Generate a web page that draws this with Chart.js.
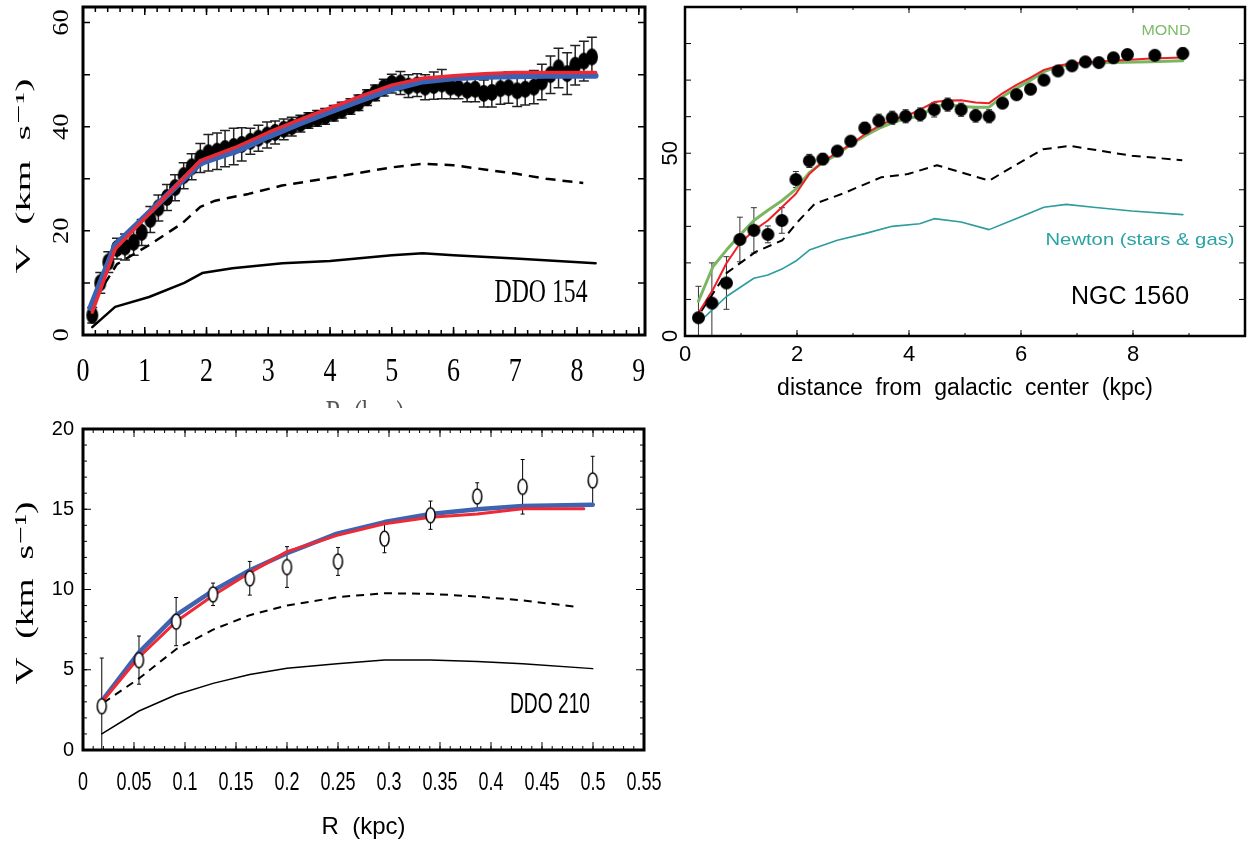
<!DOCTYPE html>
<html>
<head>
<meta charset="utf-8">
<title>Rotation curves</title>
<script src="https://cdn.jsdelivr.net/npm/chart.js@4/dist/chart.umd.min.js"></script>
<style>
  html, body { margin: 0; padding: 0; background: #fff; }
  body { width: 1255px; height: 847px; position: relative; overflow: hidden; }
  canvas { position: absolute; }
  #ddo154 { left: 0; top: 0; }
  #ngc1560 { left: 650px; top: 0; }
  #ddo210 { left: 0; top: 408px; background: #fff; }
</style>
</head>
<body>
<canvas id="ddo154" width="660" height="430"></canvas>
<canvas id="ngc1560" width="605" height="410"></canvas>
<canvas id="ddo210" width="680" height="439"></canvas>
<script>
// ---- DDO 154 (top left) ----
const ddo154R = [0.15, 0.28, 0.41, 0.55, 0.68, 0.82, 0.95, 1.09, 1.22, 1.36, 1.49, 1.63, 1.76, 1.9, 2.03,
  2.17, 2.3, 2.44, 2.57, 2.71, 2.84, 2.98, 3.11, 3.25, 3.38, 3.52, 3.65, 3.79, 3.92, 4.06, 4.19, 4.33,
  4.46, 4.6, 4.73, 4.87, 5.0, 5.14, 5.27, 5.41, 5.54, 5.68, 5.81, 5.95, 6.08, 6.22, 6.35, 6.49, 6.62,
  6.76, 6.89, 7.03, 7.16, 7.3, 7.43, 7.57, 7.7, 7.84, 7.97, 8.11, 8.24];
const ddo154V = [3.8, 10, 14, 16.6, 16.9, 17.8, 19.7, 22.2, 24.4, 26.4, 28.3, 30.6, 32.3, 34.0, 35.0,
  35.3, 35.8, 36.2, 36.6, 37.2, 37.8, 38.4, 38.9, 39.5, 40.0, 40.6, 41.2, 41.6, 42.0, 42.6, 43.2, 43.9,
  44.6, 45.6, 46.5, 47.5, 48.3, 48.4, 47.8, 48.0, 47.6, 47.9, 48.2, 47.6, 47.4, 47.0, 47.2, 46.4, 46.6,
  47.3, 47.5, 46.9, 47.2, 47.6, 48.6, 50.0, 51.3, 50.2, 51.8, 52.6, 53.4];
const ddo154Err = [1.5, 2, 2, 2, 2.5, 2.5, 2.5, 2.5, 2.5, 2.5, 2.5, 2.5, 2.5, 2.8, 3.5,
  3.5, 3.5, 3.5, 3.2, 2.5, 2.5, 2.5, 2.2, 2, 1.8, 1.6, 1.5, 1.5, 1.5, 1.5, 1.5, 1.5,
  1.5, 1.5, 1.5, 1.6, 1.8, 2.2, 2.2, 2.2, 2.4, 2.6, 2.8, 2.2, 2.0, 2.2, 2.4, 2.6, 2.8,
  3.0, 3.0, 3.0, 3.0, 3.2, 3.4, 3.6, 3.8, 4.0, 3.8, 3.8, 3.8];
const ddo154RedR = [0.15, 0.52, 1.9, 2.5, 3.0, 3.5, 4.0, 4.5, 5.0, 5.5, 6.0, 6.5, 7.0, 7.5, 8.3];
const ddo154RedV = [4.4, 16.5, 33.5, 36.2, 38.9, 41.3, 43.6, 45.9, 48.0, 49.3, 49.8, 50.2, 50.4, 50.4, 50.4];
const ddo154BlueR = [0.12, 0.52, 1.9, 2.5, 3.0, 3.5, 4.0, 4.5, 5.0, 5.5, 6.0, 6.5, 7.0, 7.5, 8.3];
const ddo154BlueV = [5.2, 17.2, 33.0, 35.4, 38.1, 40.6, 42.9, 45.1, 47.2, 48.7, 49.3, 49.6, 49.7, 49.8, 49.8];
const ddo154DarkR = [0.2, 0.55, 1.06, 1.6, 1.9, 2.14, 2.68, 3.22, 4.0, 5.0, 5.5, 6.0, 6.5, 7.0, 7.5, 8.1];
const ddo154DarkV = [7.0, 13.6, 17.2, 21.4, 24.6, 25.8, 27.1, 28.7, 30.2, 32.2, 32.9, 32.6, 31.8, 31.0, 30.0, 29.2];
const ddo154NewtR = [0.15, 0.52, 1.07, 1.64, 1.93, 2.42, 3.23, 4.0, 5.0, 5.5, 6.0, 7.0, 8.3];
const ddo154NewtV = [1.5, 5.4, 7.3, 10.0, 11.9, 12.8, 13.8, 14.2, 15.3, 15.7, 15.3, 14.7, 13.8];

// ---- NGC 1560 (top right) ----
const ngcR = [0.24, 0.48, 0.74, 0.98, 1.23, 1.48, 1.73, 1.98, 2.22, 2.46, 2.72, 2.96, 3.21, 3.46, 3.70,
  3.94, 4.20, 4.45, 4.69, 4.93, 5.19, 5.43, 5.67, 5.92, 6.17, 6.41, 6.66, 6.91, 7.15, 7.39, 7.65, 7.90, 8.39, 8.89];
const ngcV = [5.0, 9.0, 14.5, 26.4, 28.9, 27.8, 31.6, 42.8, 47.9, 48.4, 50.6, 53.3, 56.9, 58.9, 59.7,
  60.1, 60.6, 61.9, 63.3, 61.9, 60.3, 60.1, 63.7, 66.0, 67.5, 70.0, 72.5, 73.9, 75.0, 74.8, 76.1, 77.0, 76.8, 77.3];
const ngcErr = [8.6, 11, 7.2, 6.1, 6.2, 2.3, 3.5, 2.2, 1.8, 1.5, 1.2, 1.0, 1.5, 1.8, 1.8,
  1.8, 1.8, 2.0, 1.8, 1.8, 1.8, 1.8, 1.2, 1.0, 1.0, 1.0, 1.0, 1.0, 1.0, 1.0, 1.2, 1.2, 1.0, 1.5];
const ngcCurveR = [0.24, 0.5, 0.74, 0.98, 1.23, 1.48, 1.73, 1.98, 2.22, 2.46, 2.72, 2.96, 3.21, 3.46, 3.70, 3.94,
  4.2, 4.45, 4.69, 4.93, 5.19, 5.43, 5.67, 5.92, 6.17, 6.41, 6.66, 6.91, 7.15, 7.63, 8.32, 8.89];
const ngcMondV = [9.5, 19, 23.5, 27.6, 31.6, 34.4, 37, 40.2, 44.7, 47.5, 49.7, 52.4, 54.7, 56.8, 58.3, 59.5,
  60.1, 62.8, 63.3, 62.8, 62.6, 62.6, 65.5, 67.8, 70.0, 72.3, 73.7, 74.3, 74.6, 74.8, 75.0, 75.3];
const ngcRedV = [6.3, 12.7, 19.9, 25.3, 28.9, 31.6, 35.2, 38.9, 44.3, 47.7, 50.2, 52.4, 55.2, 57.4, 59.2, 60.1,
  61.9, 64.0, 64.4, 64.5, 63.9, 63.7, 66.4, 68.7, 70.7, 72.8, 73.9, 74.6, 74.8, 75.3, 75.9, 76.2];
const ngcDarkR = [0.29, 0.74, 1.26, 1.74, 2.01, 2.32, 2.81, 3.5, 3.98, 4.5, 5.43, 6.39, 6.88, 7.98, 8.88];
const ngcDarkV = [6.8, 17.2, 23.0, 26.2, 31.2, 36.2, 38.9, 43.4, 44.3, 46.7, 42.5, 51.1, 52.0, 49.3, 48.1];
const ngcNewtR = [0.24, 0.74, 1.23, 1.48, 1.73, 1.98, 2.22, 2.72, 3.21, 3.70, 4.19, 4.45, 4.93, 5.43, 5.91,
  6.41, 6.81, 7.29, 7.98, 8.89];
const ngcNewtV = [3.6, 10.8, 15.8, 16.7, 18.3, 20.5, 23.5, 26.2, 28.0, 30.0, 30.7, 32.1, 31.2, 29.1, 32.1,
  35.2, 36.0, 35.2, 34.2, 33.2];

// ---- DDO 210 (bottom left) ----
const ddo210R = [0.0184, 0.0549, 0.0913, 0.1275, 0.1635, 0.2, 0.25, 0.2956, 0.3407, 0.3865, 0.431, 0.4997];
const ddo210V = [2.73, 5.6, 8.0, 9.7, 10.7, 11.4, 11.75, 13.17, 14.63, 15.8, 16.4, 16.8];
const ddo210Err = [3.0, 1.5, 1.5, 0.7, 1.05, 1.27, 0.87, 0.88, 0.88, 0.85, 1.7, 1.5];
const ddo210CurveR = [0.0184, 0.0549, 0.0913, 0.1275, 0.1635, 0.2, 0.249, 0.2956, 0.3407, 0.3865, 0.431, 0.4997];
const ddo210BlueV = [3.04, 6.08, 8.4, 9.93, 11.2, 12.26, 13.48, 14.2, 14.7, 15.0, 15.2, 15.28];
const ddo210RedR = [0.02, 0.0549, 0.0913, 0.1275, 0.1635, 0.2, 0.249, 0.2956, 0.3407, 0.3865, 0.431, 0.491];
const ddo210RedV = [3.1, 5.78, 8.0, 9.62, 11.05, 12.36, 13.37, 14.1, 14.5, 14.7, 15.03, 15.03];
const ddo210DarkR = [0.02, 0.0549, 0.0913, 0.1275, 0.1635, 0.2, 0.249, 0.2956, 0.3407, 0.3865, 0.431, 0.484];
const ddo210DarkV = [2.94, 4.46, 6.28, 7.5, 8.4, 9.0, 9.52, 9.77, 9.73, 9.56, 9.32, 8.92];
const ddo210NewtV = [1.01, 2.43, 3.44, 4.15, 4.7, 5.1, 5.37, 5.61, 5.61, 5.51, 5.37, 5.07];

const SERIF = '"Liberation Serif", "DejaVu Serif", serif';
const SANS = '"Liberation Sans", Arial, sans-serif';

const pts = (xs, ys) => xs.map((x, i) => ({ x, y: ys[i] }));

// marker drawn as an ellipse (the original panels are stretched vertically)
function ellipseMarker(w, h, fill, stroke, lw) {
  const c = document.createElement('canvas');
  c.width = w + 4; c.height = h + 4;
  const g = c.getContext('2d');
  g.beginPath();
  g.ellipse(c.width / 2, c.height / 2, w / 2, h / 2, 0, 0, Math.PI * 2);
  g.fillStyle = fill; g.fill();
  if (stroke) { g.strokeStyle = stroke; g.lineWidth = lw; g.stroke(); }
  return c;
}

function curve(data, color, width, dash) {
  return {
    data, borderColor: color, borderWidth: width, borderDash: dash || [],
    pointRadius: 0, fill: false, tension: 0, borderJoinStyle: 'round', borderCapStyle: dash ? 'butt' : 'round'
  };
}

function points(data, style, errors, errColor, errWidth, errCap) {
  return {
    data, showLine: false, pointStyle: style, pointRadius: 6,
    errors, errorColor: errColor, errorWidth: errWidth, errorCap: errCap
  };
}

// error bars under every dataset, through the chart scales
const errorBars = {
  id: 'errorBars',
  beforeDatasetsDraw(chart) {
    const { ctx, chartArea: a, scales: { x, y } } = chart;
    ctx.save();
    ctx.beginPath();
    ctx.rect(a.left, a.top, a.right - a.left, a.bottom - a.top);
    ctx.clip();
    chart.data.datasets.forEach(ds => {
      if (!ds.errors) return;
      ctx.strokeStyle = ds.errorColor;
      ctx.lineWidth = ds.errorWidth;
      ds.data.forEach((p, i) => {
        const e = ds.errors[i];
        const px = x.getPixelForValue(p.x);
        const top = y.getPixelForValue(p.y + e);
        const bot = y.getPixelForValue(p.y - e);
        ctx.beginPath();
        ctx.moveTo(px, top); ctx.lineTo(px, bot);
        ctx.moveTo(px - ds.errorCap, top); ctx.lineTo(px + ds.errorCap, top);
        ctx.moveTo(px - ds.errorCap, bot); ctx.lineTo(px + ds.errorCap, bot);
        ctx.stroke();
      });
    });
    ctx.restore();
  }
};

function drawText(ctx, t) {
  ctx.save();
  ctx.font = t.font;
  ctx.fillStyle = t.color || '#000';
  ctx.textAlign = 'center';
  ctx.textBaseline = 'middle';
  ctx.translate(t.x, t.y);
  if (t.rot) ctx.rotate(t.rot);
  const sx = t.w ? t.w / ctx.measureText(t.text).width : (t.sx || 1);
  ctx.scale(sx, t.sy || 1);
  ctx.fillText(t.text, 0, 0);
  ctx.restore();
}

// box, inward tick marks on all four sides, rotated / stretched labels
function makeDecor(cfg) {
  return {
    id: 'decor',
    afterDatasetsDraw(chart) {
      const { ctx, chartArea: a, scales } = chart;
      ctx.save();
      ctx.strokeStyle = '#000';
      ctx.lineWidth = cfg.tickWidth;
      cfg.marks.forEach(m => {
        const sc = scales[m.axis];
        const first = Math.ceil(sc.min / m.step - 1e-6);
        const last = Math.floor(sc.max / m.step + 1e-6);
        ctx.beginPath();
        for (let n = first; n <= last; n++) {
          const p = sc.getPixelForValue(n * m.step);
          if (m.axis === 'x') {
            ctx.moveTo(p, a.bottom); ctx.lineTo(p, a.bottom - m.len);
            ctx.moveTo(p, a.top); ctx.lineTo(p, a.top + m.len);
          } else {
            ctx.moveTo(a.left, p); ctx.lineTo(a.left + m.len, p);
            ctx.moveTo(a.right, p); ctx.lineTo(a.right - m.len, p);
          }
        }
        ctx.stroke();
      });
      ctx.lineWidth = cfg.frameWidth;
      ctx.strokeRect(a.left, a.top, a.right - a.left, a.bottom - a.top);
      ctx.restore();
    },
    afterDraw(chart) {
      const { ctx, scales } = chart;
      (cfg.tickLabels || []).forEach(l => {
        const sc = scales[l.axis];
        sc.ticks.forEach(tk => {
          const q = tk.value / l.every;
          if (Math.abs(q - Math.round(q)) > 1e-6) return;
          const p = sc.getPixelForValue(tk.value);
          const pos = l.axis === 'x' ? { x: p, y: l.at } : { x: l.at, y: p };
          drawText(ctx, Object.assign({}, l, pos, { text: String(tk.value) }));
        });
      });
      (cfg.texts || []).forEach(t => drawText(ctx, t));
    }
  };
}

function linearAxis(min, max, step, ticks, fit, title) {
  return {
    type: 'linear', min, max,
    ticks: Object.assign({ stepSize: step, includeBounds: false, autoSkip: false, maxRotation: 0, minRotation: 0, color: '#000' }, ticks),
    grid: { display: false, drawTicks: false },
    border: { display: false },
    title: title || { display: false },
    afterFit: fit
  };
}

function makeChart(id, pad, datasets, scales, decor) {
  return new Chart(document.getElementById(id), {
    type: 'line',
    data: { datasets },
    options: {
      responsive: false,
      devicePixelRatio: 1,
      animation: false,
      events: [],
      layout: { padding: { top: pad.top, right: pad.right, left: 0, bottom: 0 } },
      plugins: { legend: { display: false }, tooltip: { enabled: false } },
      scales
    },
    plugins: [errorBars, makeDecor(decor)]
  });
}

// ---- DDO 154 ----
makeChart('ddo154', { top: 6, right: 15 }, [
  curve(pts(ddo154RedR, ddo154RedV), '#ec2a35', 3.5),
  curve(pts(ddo154BlueR, ddo154BlueV), '#3a62b4', 6),
  curve(pts(ddo154DarkR, ddo154DarkV), '#000', 2.5, [10, 7]),
  curve(pts(ddo154NewtR, ddo154NewtV), '#000', 2.5),
  points(pts(ddo154R, ddo154V), ellipseMarker(12, 17, '#000'), ddo154Err, '#222', 1.5, 5)
], {
  x: linearAxis(0, 9.1, 1, { display: false }, s => { s.height = 95; }),
  y: linearAxis(0, 63, 10, { display: false }, s => { s.width = 83; })
}, {
  frameWidth: 3, tickWidth: 1.5,
  marks: [{ axis: 'x', step: 0.2, len: 5 }, { axis: 'x', step: 1, len: 8 }, { axis: 'y', step: 10, len: 7 }],
  tickLabels: [
    { axis: 'x', every: 1, at: 372, font: '26px ' + SERIF, sy: 1.3 },
    { axis: 'y', every: 20, at: 62, font: '24px ' + SERIF, rot: -Math.PI / 2, sx: 1.1 }
  ],
  texts: [
    { text: 'V  (km  s⁻¹)', x: 24, y: 176, rot: -Math.PI / 2, font: '22px ' + SERIF, w: 195 },
    { text: 'R  (kpc)', x: 365, y: 416, font: '24px ' + SERIF, sy: 1.5, color: '#555' },
    { text: 'DDO 154', x: 541, y: 293, font: '24px ' + SERIF, w: 93, sy: 1.4 }
  ]
});

// ---- NGC 1560 ----
makeChart('ngc1560', { top: 6, right: 10 }, [
  points(pts(ngcR, ngcV), ellipseMarker(13, 13, '#000'), ngcErr, '#333', 1, 3),
  curve(pts(ngcCurveR, ngcRedV), '#ec2027', 2),
  curve(pts(ngcCurveR, ngcMondV), '#7bb661', 3),
  curve(pts(ngcDarkR, ngcDarkV), '#000', 2, [9, 6]),
  curve(pts(ngcNewtR, ngcNewtV), '#2c9c9c', 1.6)
], {
  x: linearAxis(0, 10, 2, {
    font: { family: SANS, size: 22 }, padding: 6,
    callback: v => (v === 10 ? '' : String(v))
  }, s => { s.height = 74; }, {
    display: true, text: 'distance  from  galactic  center  (kpc)', color: '#000',
    font: { family: SANS, size: 23 }, padding: { top: 0, bottom: 8 }
  }),
  y: linearAxis(0, 90, 10, { display: false }, s => { s.width = 35; })
}, {
  frameWidth: 2.5, tickWidth: 1,
  marks: [{ axis: 'x', step: 1, len: 3 }, { axis: 'x', step: 2, len: 6 }, { axis: 'y', step: 10, len: 6 }],
  tickLabels: [{ axis: 'y', every: 50, at: 21, font: '22px ' + SANS, rot: -Math.PI / 2 }],
  texts: [
    { text: 'MOND', x: 516, y: 31, font: '15px ' + SANS, color: '#7dba6a', w: 49 },
    { text: 'Newton (stars & gas)', x: 490, y: 240, font: '17px ' + SANS, color: '#2aa3a3', w: 189 },
    { text: 'NGC 1560', x: 480, y: 297, font: '25px ' + SANS }
  ]
});

// ---- DDO 210 ----
makeChart('ddo210', { top: 13, right: 36 }, [
  points(pts(ddo210R, ddo210V), ellipseMarker(9, 15, '#fff', '#000', 1.5), ddo210Err, '#000', 1, 2),
  curve(pts(ddo210RedR, ddo210RedV), '#ef2a35', 3),
  curve(pts(ddo210CurveR, ddo210BlueV), '#3f63b0', 4.5),
  curve(pts(ddo210DarkR, ddo210DarkV), '#000', 2, [8, 6]),
  curve(pts(ddo210CurveR, ddo210NewtV), '#000', 1.5)
], {
  x: linearAxis(0, 0.55, 0.05, { display: false }, s => { s.height = 97; }, {
    display: true, text: 'R  (kpc)', color: '#000',
    font: { family: SANS, size: 24 }, padding: { top: 0, bottom: 5.6 }
  }),
  y: linearAxis(0, 20, 5, { font: { family: SANS, size: 20 }, padding: 9 }, s => { s.width = 83; })
}, {
  frameWidth: 3, tickWidth: 1,
  marks: [{ axis: 'x', step: 0.01, len: 4 }, { axis: 'x', step: 0.05, len: 8 },
          { axis: 'y', step: 1, len: 4 }, { axis: 'y', step: 5, len: 8 }],
  tickLabels: [{ axis: 'x', every: 0.05, at: 375, font: '25px ' + SANS, sx: 0.72, sy: 1.02 }],
  texts: [
    { text: 'V  (km  s⁻¹)', x: 26, y: 185, rot: -Math.PI / 2, font: '26px ' + SERIF, w: 183 },
    { text: 'DDO 210', x: 550, y: 297, font: '24px ' + SANS, w: 80, sy: 1.25 }
  ]
});
</script>
</body>
</html>
